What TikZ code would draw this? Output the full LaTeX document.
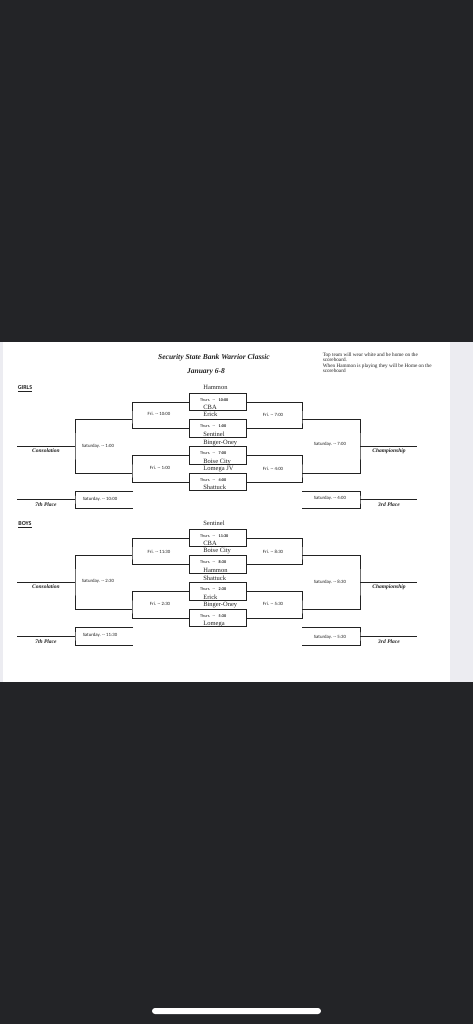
\documentclass[tikz,border=0pt]{standalone}
\usepackage{fontspec}
\setmainfont{Liberation Serif}
\newfontfamily\calib{Carlito}
\usetikzlibrary{positioning}
\definecolor{screen}{HTML}{232427}
\definecolor{paperedge}{HTML}{ECECF1}
\definecolor{ink}{HTML}{222222}

\begin{document}
\begin{tikzpicture}[x=1pt, y=-1pt,
  every node/.style={inner sep=0.6pt, text=ink},
  bline/.style={draw=ink, line width=0.9pt},
  game/.style={
    draw=ink, line width=0.9pt, inner sep=0pt,
    minimum width=57pt, minimum height=17.5pt,
    text width=35pt, text height=2.8pt, text depth=4.5pt,
    font=\calib\fontsize{4.2}{4.2}\selectfont
  },
  team/.style={font=\fontsize{6.5}{6.5}\selectfont},
  rnd/.style={font=\calib\fontsize{4.8}{5}\selectfont},
  place/.style={font=\bfseries\itshape\fontsize{5.5}{6}\selectfont},
  sect/.style={font=\calib\bfseries\fontsize{6}{6}\selectfont},
  title/.style={font=\bfseries\itshape\fontsize{7.5}{8}\selectfont}
]
  \useasboundingbox (0,0) rectangle (473,1024);
  \fill[screen] (0,0) rectangle (473,1024);
  \fill[paperedge] (0,342) rectangle (473,682);
  \fill[white] (3,342) rectangle (450,682);
  \fill[white, rounded corners=3pt] (152,1008) rectangle (321,1014);

  % heading
  \node[title] (ttl) at (214,358) {Security State Bank Warrior Classic};
  \node[title] (date) at (206,372) {January 6-8};
  \node[anchor=north west, align=left, font=\fontsize{5.2}{5.5}\selectfont] (note) at (322,352)
    {Top team will wear white and be home on the\\scoreboard.\\When Hammon is playing they will be Home on the\\scoreboard};

  % girls bracket
  \node[sect] (gsec) at (25,389) {\underline{GIRLS}};
  \node[game] (g1) at (217.5,402) {Thurs. -- \hspace{2pt}\textbf{10:00}};
  \node[game] (g2) at (217.5,428.5) {Thurs. -- \hspace{2pt}\textbf{1:00}};
  \node[game] (g3) at (217.5,455.5) {Thurs. -- \hspace{2pt}\textbf{7:00}};
  \node[game] (g4) at (217.5,482) {Thurs. -- \hspace{2pt}\textbf{4:00}};
  \node[team, anchor=base west] (g1a) at ([xshift=14pt,yshift=3pt]g1.north west) {Hammon};
  \node[team, anchor=base west] (g1b) at ([xshift=14pt,yshift=1.5pt]g1.south west) {CBA};
  \node[team, anchor=base west] (g2a) at ([xshift=14pt,yshift=2.5pt]g2.north west) {Erick};
  \node[team, anchor=base west] (g2b) at ([xshift=14pt,yshift=1.5pt]g2.south west) {Sentinel};
  \node[team, anchor=base west] (g3a) at ([xshift=14pt,yshift=1.5pt]g3.north west) {Binger-Oney};
  \node[team, anchor=base west] (g3b) at ([xshift=14pt,yshift=1.5pt]g3.south west) {Boise City};
  \node[team, anchor=base west] (g4a) at ([xshift=14pt,yshift=2pt]g4.north west) {Lomega JV};
  \node[team, anchor=base west] (g4b) at ([xshift=14pt,yshift=1.5pt]g4.south west) {Shattuck};

  \coordinate (gl1) at (132,419);
  \coordinate (gl2) at (132,473);
  \coordinate (gls) at (75,446);
  \coordinate (glc) at (17,446);
  \coordinate (gr1) at (302,419);
  \coordinate (gr2) at (302,473);
  \coordinate (grs) at (360,446);
  \coordinate (grc) at (417,446);
  \coordinate (g7a) at (133,491);
  \coordinate (g7b) at (133,508);
  \coordinate (gsev) at (75,499.5);
  \coordinate (gseve) at (17,499.5);
  \coordinate (g3ra) at (302,491);
  \coordinate (g3rb) at (302,508);
  \coordinate (gthird) at (360,499.5);
  \coordinate (gthirde) at (417,499.5);

  \draw[bline] (g1.west) -| (gl1) |- (g2.west);
  \draw[bline] (g3.west) -| (gl2) |- (g4.west);
  \draw[bline] (gl1) -| (gls) |- (gl2);
  \draw[bline] (gls) -- (glc);
  \draw[bline] (g1.east) -| (gr1) |- (g2.east);
  \draw[bline] (g3.east) -| (gr2) |- (g4.east);
  \draw[bline] (gr1) -| (grs) |- (gr2);
  \draw[bline] (grs) -- (grc);
  \draw[bline] (g7a) -| (gsev) |- (g7b);
  \draw[bline] (gsev) -- (gseve);
  \draw[bline] (g3ra) -| (gthird) |- (g3rb);
  \draw[bline] (gthird) -- (gthirde);

  \node[rnd] (gf1) at (159,414) {Fri. -- 10:00};
  \node[rnd] (gf2) at (160,468) {Fri. -- 1:00};
  \node[rnd] (gf3) at (273,415) {Fri. -- 7:00};
  \node[rnd] (gf4) at (273,469) {Fri. -- 4:00};
  \node[rnd] (gs1) at (98,446) {Saturday. -- 1:00};
  \node[rnd] (gs2) at (330,444) {Saturday. -- 7:00};
  \node[rnd] (gs3) at (100,499) {Saturday. -- 10:00};
  \node[rnd] (gs4) at (330,498) {Saturday. -- 4:00};
  \node[place] (gcons) at (46,451) {Consolation};
  \node[place] (gchamp) at (389,451) {Championship};
  \node[place] (gsevl) at (46,505) {7th Place};
  \node[place] (gthirdl) at (389,505) {3rd Place};

  % boys bracket
  \begin{scope}[shift={(0,136)}]
  \node[sect] (bsec) at (25,389) {\underline{BOYS}};
  \node[game] (b1) at (217.5,402) {Thurs. -- \hspace{2pt}\textbf{11:30}};
  \node[game] (b2) at (217.5,428.5) {Thurs. -- \hspace{2pt}\textbf{8:30}};
  \node[game] (b3) at (217.5,455.5) {Thurs. -- \hspace{2pt}\textbf{2:30}};
  \node[game] (b4) at (217.5,482) {Thurs. -- \hspace{2pt}\textbf{5:30}};
  \node[team, anchor=base west] (b1a) at ([xshift=14pt,yshift=3pt]b1.north west) {Sentinel};
  \node[team, anchor=base west] (b1b) at ([xshift=14pt,yshift=1.5pt]b1.south west) {CBA};
  \node[team, anchor=base west] (b2a) at ([xshift=14pt,yshift=2.5pt]b2.north west) {Boise City};
  \node[team, anchor=base west] (b2b) at ([xshift=14pt,yshift=1.5pt]b2.south west) {Hammon};
  \node[team, anchor=base west] (b3a) at ([xshift=14pt,yshift=2pt]b3.north west) {Shattuck};
  \node[team, anchor=base west] (b3b) at ([xshift=14pt,yshift=1.5pt]b3.south west) {Erick};
  \node[team, anchor=base west] (b4a) at ([xshift=14pt,yshift=2pt]b4.north west) {Binger-Oney};
  \node[team, anchor=base west] (b4b) at ([xshift=14pt,yshift=1.5pt]b4.south west) {Lomega};

  \coordinate (bl1) at (132,419);
  \coordinate (bl2) at (132,473);
  \coordinate (bls) at (75,446);
  \coordinate (blc) at (17,446);
  \coordinate (br1) at (302,419);
  \coordinate (br2) at (302,473);
  \coordinate (brs) at (360,446);
  \coordinate (brc) at (417,446);
  \coordinate (b7a) at (133,491);
  \coordinate (b7b) at (133,509);
  \coordinate (bsev) at (75,500);
  \coordinate (bseve) at (17,500);
  \coordinate (b3ra) at (302,491);
  \coordinate (b3rb) at (302,509);
  \coordinate (bthird) at (360,500.5);
  \coordinate (bthirde) at (417,500.5);

  \draw[bline] (b1.west) -| (bl1) |- (b2.west);
  \draw[bline] (b3.west) -| (bl2) |- (b4.west);
  \draw[bline] (bl1) -| (bls) |- (bl2);
  \draw[bline] (bls) -- (blc);
  \draw[bline] (b1.east) -| (br1) |- (b2.east);
  \draw[bline] (b3.east) -| (br2) |- (b4.east);
  \draw[bline] (br1) -| (brs) |- (br2);
  \draw[bline] (brs) -- (brc);
  \draw[bline] (b7a) -| (bsev) |- (b7b);
  \draw[bline] (bsev) -- (bseve);
  \draw[bline] (b3ra) -| (bthird) |- (b3rb);
  \draw[bline] (bthird) -- (bthirde);

  \node[rnd] (bf1) at (159,416) {Fri. -- 11:30};
  \node[rnd] (bf2) at (160,468) {Fri. -- 2:30};
  \node[rnd] (bf3) at (273,416) {Fri. -- 8:30};
  \node[rnd] (bf4) at (273,468) {Fri. -- 5:30};
  \node[rnd] (bs1) at (98,445) {Saturday. -- 2:30};
  \node[rnd] (bs2) at (330,446) {Saturday. -- 8:30};
  \node[rnd] (bs3) at (100,499) {Saturday. -- 11:30};
  \node[rnd] (bs4) at (330,501) {Saturday. -- 5:30};
  \node[place] (bcons) at (46,451) {Consolation};
  \node[place] (bchamp) at (389,451) {Championship};
  \node[place] (bsevl) at (46,505.5) {7th Place};
  \node[place] (bthirdl) at (389,506) {3rd Place};
  \end{scope}
\end{tikzpicture}
\end{document}
